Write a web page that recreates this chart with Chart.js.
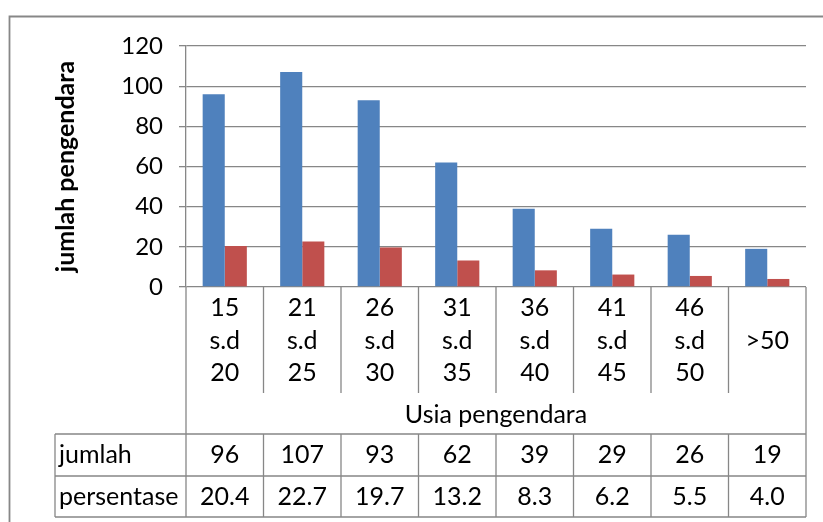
<!DOCTYPE html>
<html><head><meta charset="utf-8">
<script src="https://cdn.jsdelivr.net/npm/chart.js@4/dist/chart.umd.min.js"></script>
<style>html,body{margin:0;padding:0;background:#fff;} #wrap{width:823px;height:522px;position:relative;}</style>
</head><body><div id="wrap"><canvas id="c" width="823" height="522"></canvas></div>
<script>
// ---- data ----
const categories = [["15","s.d","20"],["21","s.d","25"],["26","s.d","30"],["31","s.d","35"],["36","s.d","40"],["41","s.d","45"],["46","s.d","50"],[">50"]];
const jumlah = [96,107,93,62,39,29,26,19];
const persentase = [20.4,22.7,19.7,13.2,8.3,6.2,5.5,4.0];
const rowNames = ["jumlah","persentase"];
const yTitle = "jumlah pengendara";
const xTitle = "Usia pengendara";
const yMin = 0, yMax = 120, yStep = 20;

// ---- style ----
const FONT = "Lato, 'Noto Sans', sans-serif";
const GRID = '#878787';
const LW = 1.3;
Chart.defaults.font.family = FONT;

const tablePlugin = {
  id: 'tbl',
  afterDraw(chart) {
    const {ctx, chartArea: a, scales: {x, y}} = chart;
    const n = categories.length;
    const edge = i => x.getPixelForValue(i - 0.5);
    const base = y.getPixelForValue(0);
    const labBottom = base + 106, tTop = base + 147, tMid = base + 189, tBot = base + 230;
    const tLeft = 55;
    ctx.save();
    ctx.strokeStyle = GRID; ctx.lineWidth = LW;
    ctx.beginPath();
    // category dividers in label area
    for (let i = 0; i <= n; i++) {
      const xx = edge(i);
      ctx.moveTo(xx, base); ctx.lineTo(xx, (i === 0 || i === n) ? tTop : labBottom);
      ctx.moveTo(xx, tTop); ctx.lineTo(xx, tBot);
    }
    // table lines
    ctx.moveTo(tLeft, tTop); ctx.lineTo(edge(n), tTop);
    ctx.moveTo(tLeft, tMid); ctx.lineTo(edge(n), tMid);
    ctx.moveTo(tLeft, tBot); ctx.lineTo(edge(n), tBot);
    ctx.moveTo(tLeft, tTop); ctx.lineTo(tLeft, tBot);
    ctx.stroke();
    // outer frame
    ctx.lineWidth = 1.8;
    ctx.beginPath();
    ctx.moveTo(9.5, 530); ctx.lineTo(9.5, 16.5); ctx.lineTo(830, 16.5);
    ctx.stroke();

    ctx.fillStyle = '#000';
    ctx.font = "25px " + FONT;
    ctx.textAlign = 'center'; ctx.textBaseline = 'middle';
    const lh = 32.7;
    categories.forEach((lines, i) => {
      const cx = x.getPixelForValue(i);
      lines.forEach((t, k) => {
        ctx.fillText(t, cx, base + 53.7 + (k - (lines.length - 1) / 2) * lh);
      });
      ctx.fillText(String(jumlah[i]), cx, base + 168);
      ctx.fillText(persentase[i].toFixed(1), cx, base + 210);
    });
    ctx.fillText(xTitle, (a.left + a.right) / 2, base + 128);
    ctx.textAlign = 'left';
    ctx.fillText(rowNames[0], tLeft + 4, base + 168);
    ctx.fillText(rowNames[1], tLeft + 4, base + 210);
    ctx.restore();
  }
};

new Chart(document.getElementById('c'), {
  type: 'bar',
  data: {
    labels: categories.map(c => c.join(' ')),
    datasets: [
      {label: rowNames[0], data: jumlah, backgroundColor: '#4F81BD'},
      {label: rowNames[1], data: persentase, backgroundColor: '#C0504D'}
    ]
  },
  options: {
    responsive: false, animation: false, devicePixelRatio: 1,
    layout: {padding: {left: 0, top: 46, right: 17, bottom: 235}},
    plugins: {legend: {display: false}, tooltip: {enabled: false}},
    datasets: {bar: {categoryPercentage: 0.57, barPercentage: 1}},
    scales: {
      x: {display: false},
      y: {
        min: yMin, max: yMax,
        ticks: {stepSize: yStep, padding: 16, color: '#000', font: {size: 24}},
        grid: {color: GRID, lineWidth: LW, tickLength: 7, tickColor: GRID},
        border: {color: GRID, width: LW},
        title: {display: true, text: yTitle, color: '#000', font: {size: 25, weight: 'bold'}, padding: {top: 51, bottom: 0}},
        afterFit(s) { s.width = 186; }
      }
    }
  },
  plugins: [tablePlugin]
});
</script></body></html>
